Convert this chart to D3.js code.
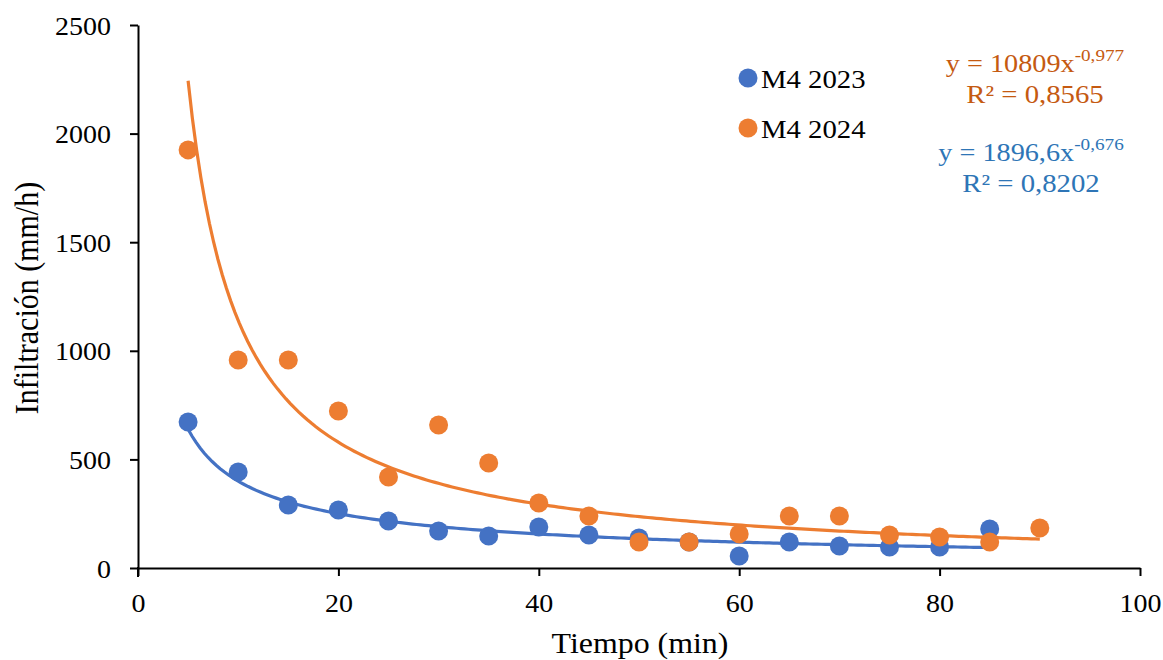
<!DOCTYPE html>
<html><head><meta charset="utf-8">
<script src="https://cdn.jsdelivr.net/npm/d3@7"></script>
<style>body{margin:0;background:#fff}svg{display:block}svg text{font-family:"Liberation Serif",serif !important}</style>
</head><body><svg id="c" width="1163" height="660"></svg>
<script>
const times2023 = [5,10,15,20,25,30,35,40,45,50,55,60,65,70,75,80,85];
const vals2023 = [672,442,290,267,216,170,147,189,152,138,120,55,120,101,97,97,180];
const times2024 = [5,10,15,20,25,30,35,40,45,50,55,60,65,70,75,80,85,90];
const vals2024 = [1925,958,958,723,419,658,483,299,239,120,120,157,239,239,152,143,120,184];
const seriesNames = ["M4 2023","M4 2024"];
const fitCoef = [1896.6, 10809];
const fitExp = [-0.676, -0.977];
const xTicks = [0,20,40,60,80,100];
const yTicks = [0,500,1000,1500,2000,2500];

const SX = 1.12; // horizontal stretch of the reference text
const svg = d3.select("#c");
const x = d3.scaleLinear().domain([0,100]).range([138,1140]);
const y = d3.scaleLinear().domain([0,2500]).range([568,25]);
const colors = ["#4472C4","#ED7D31"];
const textColors = ["#2E75B6","#C55A11"];

// axes
const xa = svg.append("g").attr("transform","translate(0,568)")
  .call(d3.axisBottom(x).tickValues(xTicks).tickFormat(d3.format("d")).tickSize(8).tickPadding(0).tickSizeOuter(0));
const ya = svg.append("g").attr("transform","translate(138,0)")
  .call(d3.axisLeft(y).tickValues(yTicks).tickFormat(d3.format("d")).tickSize(8).tickPadding(0).tickSizeOuter(0));
[xa,ya].forEach(a=>{
  a.attr("font-size",25);
  a.select(".domain").attr("stroke","#000").attr("stroke-width",2);
  a.selectAll(".tick line").attr("stroke","#000").attr("stroke-width",2);
  a.selectAll(".tick text").attr("fill","#000");
});
xa.selectAll(".tick text").attr("y",0).attr("dy",0)
  .attr("transform",`translate(0,44) scale(${SX},1)`);
ya.selectAll(".tick text").attr("x",0).attr("dy",0)
  .attr("transform",`translate(-27,9) scale(${SX},1)`);
svg.append("line").attr("x1",138).attr("x2",138).attr("y1",567).attr("y2",577).attr("stroke","#000").attr("stroke-width",2);

// trend lines
const data = [[times2023,vals2023],[times2024,vals2024]];
data.forEach((d,i)=>{
  const xs = d[0];
  const lo = d3.min(xs), hi = d3.max(xs);
  const pts = d3.range(0,201).map(k=>{const t=lo+(hi-lo)*k/200; return [t, fitCoef[i]*Math.pow(t,fitExp[i])];});
  svg.append("path").datum(pts)
    .attr("d", d3.line().x(p=>x(p[0])).y(p=>y(p[1])))
    .attr("fill","none").attr("stroke",colors[i]).attr("stroke-width",3.2);
});
// points
data.forEach((d,i)=>{
  svg.append("g").selectAll("circle").data(d[0].map((t,k)=>[t,d[1][k]])).join("circle")
    .attr("cx",p=>x(p[0])).attr("cy",p=>y(p[1])).attr("r",9.5).attr("fill",colors[i]);
});

function stext(px, py, anchor, size, col, sx){
  return svg.append("g").attr("transform",`translate(${px},${py}) scale(${sx||SX},1)`)
    .append("text").attr("text-anchor",anchor).attr("font-size",size).attr("fill",col);
}

// legend
seriesNames.forEach((n,i)=>{
  const yy = 78 + i*50;
  svg.append("circle").attr("cx",748).attr("cy",yy).attr("r",9.5).attr("fill",colors[i]);
  stext(761, yy+10, "start", 25, "#000", 1.15).text(n);
});

// equations
function eq(cx, yy, coefText, expText, r2, col){
  const t = stext(cx, yy, "middle", 25, col, 1.13);
  t.append("tspan").text("y = "+coefText+"x");
  t.append("tspan").attr("dy",-11).attr("font-size",17).text(expText);
  stext(cx, yy+31, "middle", 25, col, 1.15).text("R² = "+r2);
}
eq(1035,72,"10809","-0,977","0,8565",textColors[1]);
eq(1031,161,"1896,6","-0,676","0,8202",textColors[0]);

// axis titles
stext(640, 653, "middle", 29, "#000", 1.1).text("Tiempo (min)");
svg.append("g").attr("transform","translate(38,298) rotate(-90)")
  .append("text").attr("transform","scale(1,1.12)").attr("text-anchor","middle")
  .attr("font-size",30).attr("fill","#000").text("Infiltración (mm/h)");
</script></body></html>
